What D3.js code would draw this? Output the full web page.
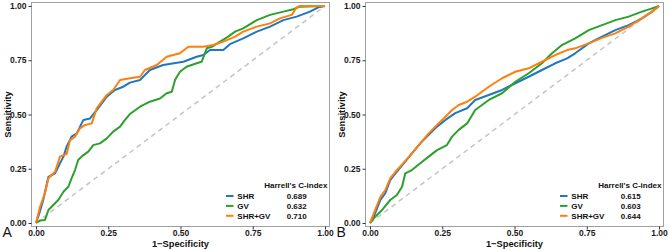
<!DOCTYPE html>
<html><head><meta charset="utf-8">
<script src="https://cdn.jsdelivr.net/npm/d3@7"></script>
<style>body{margin:0;background:#fff}svg{display:block}text{font-family:"Liberation Sans",Arial,sans-serif}</style>
</head><body><svg id="c" width="669" height="250"></svg>
<script>
const seriesNames = ["SHR", "GV", "SHR+GV"];
const seriesColors = ["#1f77c0", "#2ca02c", "#ff7f0e"];
const tickValues = [0, 0.25, 0.5, 0.75, 1];
const tickLabels = ["0.00", "0.25", "0.50", "0.75", "1.00"];
const panelLabels = ["A", "B"];
const cIndexA = ["0.689", "0.632", "0.710"];
const cIndexB = ["0.615", "0.603", "0.644"];

const rocA_SHR = [[0,0],[0.012,0.046],[0.025,0.106],[0.043,0.213],[0.066,0.229],[0.083,0.275],[0.095,0.306],[0.106,0.352],[0.123,0.398],[0.141,0.413],[0.164,0.475],[0.187,0.482],[0.21,0.52],[0.245,0.582],[0.273,0.613],[0.302,0.628],[0.325,0.647],[0.36,0.659],[0.394,0.705],[0.44,0.728],[0.51,0.743],[0.556,0.766],[0.579,0.774],[0.602,0.797],[0.648,0.797],[0.671,0.824],[0.717,0.851],[0.764,0.882],[0.81,0.905],[0.856,0.935],[0.902,0.951],[0.948,0.974],[0.977,0.994],[1,1]];
const rocA_GV = [[0,0],[0.014,0.011],[0.031,0.014],[0.043,0.06],[0.06,0.083],[0.077,0.106],[0.095,0.144],[0.112,0.167],[0.123,0.206],[0.135,0.244],[0.146,0.29],[0.164,0.313],[0.181,0.329],[0.198,0.359],[0.221,0.367],[0.245,0.39],[0.267,0.421],[0.291,0.444],[0.308,0.475],[0.325,0.502],[0.36,0.536],[0.394,0.559],[0.429,0.574],[0.452,0.598],[0.47,0.605],[0.481,0.659],[0.498,0.697],[0.521,0.72],[0.556,0.736],[0.573,0.743],[0.591,0.805],[0.608,0.812],[0.637,0.836],[0.665,0.859],[0.689,0.882],[0.717,0.897],[0.764,0.935],[0.81,0.959],[0.856,0.974],[0.89,0.985],[0.913,0.997],[1,1]];
const rocA_SHRGV = [[0,0],[0.014,0.075],[0.031,0.137],[0.043,0.206],[0.054,0.221],[0.066,0.236],[0.083,0.306],[0.106,0.318],[0.118,0.382],[0.135,0.398],[0.152,0.436],[0.17,0.452],[0.193,0.459],[0.21,0.528],[0.245,0.59],[0.267,0.613],[0.291,0.659],[0.325,0.667],[0.36,0.674],[0.377,0.705],[0.418,0.728],[0.452,0.766],[0.498,0.782],[0.527,0.812],[0.579,0.812],[0.613,0.82],[0.648,0.836],[0.689,0.859],[0.717,0.882],[0.764,0.905],[0.81,0.92],[0.844,0.943],[0.885,0.959],[0.902,0.994],[0.913,1],[1,1]];

const rocB_SHR = [[0,0],[0.018,0.045],[0.036,0.106],[0.053,0.137],[0.070,0.198],[0.088,0.229],[0.117,0.275],[0.145,0.321],[0.174,0.367],[0.203,0.406],[0.232,0.444],[0.261,0.475],[0.295,0.506],[0.336,0.529],[0.364,0.567],[0.411,0.590],[0.457,0.613],[0.503,0.644],[0.549,0.674],[0.595,0.705],[0.641,0.736],[0.682,0.759],[0.710,0.782],[0.757,0.828],[0.803,0.859],[0.849,0.889],[0.895,0.912],[0.941,0.943],[0.976,0.974],[1,1]];
const rocB_GV = [[0,0],[0.018,0.029],[0.042,0.060],[0.070,0.106],[0.093,0.129],[0.111,0.167],[0.122,0.229],[0.145,0.244],[0.174,0.275],[0.203,0.306],[0.232,0.336],[0.266,0.359],[0.284,0.398],[0.307,0.429],[0.336,0.459],[0.364,0.521],[0.411,0.567],[0.457,0.598],[0.503,0.651],[0.549,0.690],[0.595,0.736],[0.630,0.782],[0.664,0.820],[0.710,0.851],[0.757,0.889],[0.803,0.912],[0.849,0.935],[0.895,0.951],[0.941,0.974],[0.976,0.989],[1,1]];
const rocB_SHRGV = [[0,0],[0.018,0.060],[0.036,0.121],[0.053,0.152],[0.070,0.206],[0.088,0.236],[0.117,0.278],[0.145,0.321],[0.174,0.367],[0.203,0.413],[0.232,0.452],[0.261,0.490],[0.284,0.521],[0.307,0.544],[0.336,0.559],[0.364,0.582],[0.411,0.628],[0.457,0.667],[0.503,0.697],[0.549,0.713],[0.595,0.743],[0.641,0.774],[0.682,0.797],[0.710,0.805],[0.757,0.828],[0.803,0.853],[0.849,0.874],[0.895,0.905],[0.941,0.943],[0.976,0.974],[1,1]];

const panels = [
  {ox: 0, label: panelLabels[0], series: [rocA_SHR, rocA_GV, rocA_SHRGV], cidx: cIndexA},
  {ox: 334, label: panelLabels[1], series: [rocB_SHR, rocB_GV, rocB_SHRGV], cidx: cIndexB}
];

const svg = d3.select("#c");

panels.forEach(p => {
  const ox = p.ox;
  const x = d3.scaleLinear().domain([0, 1]).range([36 + ox, 325 + ox]);
  const y = d3.scaleLinear().domain([0, 1]).range([223, 6]);
  const g = svg.append("g");

  g.append("rect").attr("x", 31.5 + ox).attr("y", 2.5).attr("width", 298).attr("height", 224)
    .attr("fill", "none").attr("stroke", "#a0a0a0").attr("stroke-width", 1);

  g.append("line").attr("x1", x(0)).attr("y1", y(0)).attr("x2", x(1)).attr("y2", y(1))
    .attr("stroke", "#c4c4c4").attr("stroke-width", 1.5).attr("stroke-dasharray", "5,4");

  const xa = g.append("g").attr("transform", "translate(0,226.5)")
    .call(d3.axisBottom(x).tickValues(tickValues).tickFormat((d, i) => tickLabels[i]).tickSize(3).tickPadding(0.5));
  const ya = g.append("g").attr("transform", `translate(${31.5 + ox},0)`)
    .call(d3.axisLeft(y).tickValues(tickValues).tickFormat((d, i) => tickLabels[i]).tickSize(3).tickPadding(2));
  [xa, ya].forEach(a => {
    a.select(".domain").remove();
    a.selectAll(".tick line").attr("stroke", "#333");
    a.selectAll(".tick text").attr("fill", "#1a1a1a").style("font-size", "8.5px").style("font-weight", "bold");
  });

  const line = d3.line().x(d => x(d[0])).y(d => y(d[1]));
  p.series.forEach((s, i) => {
    g.append("path").datum(s).attr("d", line).attr("fill", "none")
      .attr("stroke", seriesColors[i]).attr("stroke-width", 2).attr("stroke-linejoin", "round");
  });

  g.append("text").attr("x", (x(0) + x(1)) / 2).attr("y", 246.5).attr("text-anchor", "middle")
    .style("font-size", "9.3px").style("font-weight", "bold").attr("fill", "#111").text("1\u2212Specificity");
  g.append("text").attr("transform", `translate(${11 + ox},${(y(0) + y(1)) / 2}) rotate(-90)`)
    .attr("text-anchor", "middle").style("font-size", "9.3px").style("font-weight", "bold").attr("fill", "#111").text("Sensitivity");

  g.append("text").attr("x", 2.5 + ox).attr("y", 237).style("font-size", "14px").attr("fill", "#111").text(p.label);

  g.append("text").attr("x", 327.5 + ox).attr("y", 187.5).attr("text-anchor", "end")
    .style("font-size", "8px").style("font-weight", "bold").attr("fill", "#111").text("Harrell's C-index");
  seriesNames.forEach((n, i) => {
    const cy = 196 + i * 9.9;
    g.append("line").attr("x1", 226 + ox).attr("x2", 233.5 + ox).attr("y1", cy).attr("y2", cy)
      .attr("stroke", seriesColors[i]).attr("stroke-width", 2);
    g.append("text").attr("x", 237.3 + ox).attr("y", cy + 3).style("font-size", "8px").style("font-weight", "bold")
      .attr("fill", "#111").text(n);
    g.append("text").attr("x", 286.7 + ox).attr("y", cy + 3).style("font-size", "8px").style("font-weight", "bold")
      .attr("fill", "#111").text(p.cidx[i]);
  });
});
</script></body></html>
